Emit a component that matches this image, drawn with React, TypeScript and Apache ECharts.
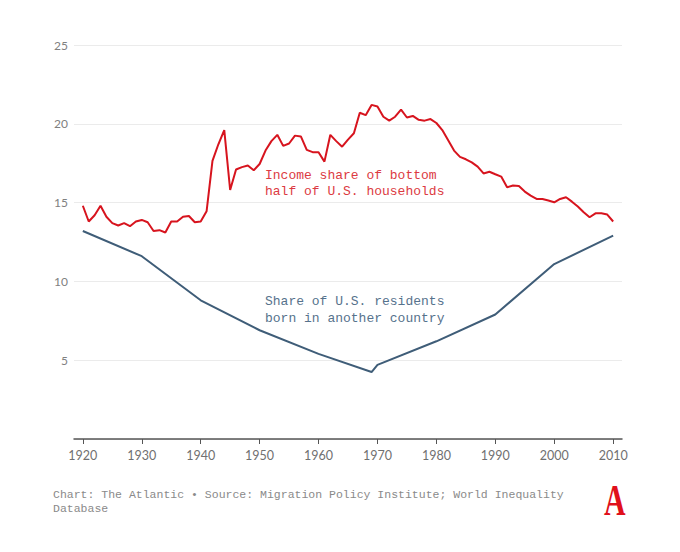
import React, { useEffect, useRef } from "react";
import * as echarts from "echarts";

// bottom-50% income share, one value per year from 1920
const incomeStartYear = 1920;
const incomeShare = [
	14.8, 13.8, 14.2, 14.8, 14.1, 13.7, 13.55, 13.7, 13.5, 13.8,
	13.9, 13.75, 13.2, 13.25, 13.1, 13.8, 13.8, 14.1, 14.15, 13.75,
	13.8, 14.45, 17.65, 18.7, 19.6, 15.8, 17.1, 17.25, 17.35, 17.05,
	17.45, 18.3, 18.9, 19.3, 18.6, 18.75, 19.25, 19.2, 18.35, 18.2,
	18.2, 17.6, 19.3, 18.9, 18.55, 19.0, 19.4, 20.7, 20.55, 21.2,
	21.1, 20.45, 20.2, 20.45, 20.9, 20.4, 20.5, 20.25, 20.2, 20.3,
	20.05, 19.6, 18.95, 18.3, 17.9, 17.75, 17.55, 17.28, 16.85, 16.96,
	16.8, 16.65, 15.97, 16.08, 16.05, 15.7, 15.44, 15.23, 15.23, 15.13,
	15.02, 15.23, 15.34, 15.06, 14.75, 14.39, 14.07, 14.32, 14.32, 14.24,
	13.8,
];

// foreign-born share of residents
const foreignYears = [1920, 1930, 1940, 1950, 1960, 1969, 1970, 1980, 1990, 2000, 2010];
const foreignShare = [13.2, 11.6, 8.8, 6.9, 5.4, 4.25, 4.7, 6.2, 7.9, 11.1, 12.9];

const xTicks = [1920, 1930, 1940, 1950, 1960, 1970, 1980, 1990, 2000, 2010];

const RED = "#d7141e";
const BLUE = "#3f5d78";

const App = () => {
	const chartRef = useRef(null);

	useEffect(() => {
		if (!chartRef.current) return;
		const chart = echarts.init(chartRef.current, null, { renderer: "svg" });

		const incomeData = incomeShare.map((v, i) => [incomeStartYear + i, v]);
		const foreignData = foreignYears.map((y, i) => [y, foreignShare[i]]);

		chart.setOption({
			animation: false,
			backgroundColor: "#ffffff",
			grid: { left: 74, right: 58, top: 45, bottom: 113 },
			xAxis: {
				type: "value",
				min: 1918.5,
				max: 2011.5,
				axisLine: { show: true, lineStyle: { color: "#555", width: 1.5 } },
				axisTick: {
					show: true,
					customValues: xTicks,
					length: 5,
					inside: false,
					lineStyle: { color: "#555" },
				},
				axisLabel: {
					customValues: xTicks,
					color: "#707070",
					fontFamily: "Lato",
					fontSize: 12.5,
					margin: 10,
					formatter: (v) => String(v),
				},
				splitLine: { show: false },
			},
			yAxis: {
				type: "value",
				min: 0,
				max: 25,
				interval: 5,
				axisLine: { show: false },
				axisTick: { show: false },
				axisLabel: {
					color: "#808080",
					fontFamily: "Lato",
					fontSize: 12,
					margin: 6,
					formatter: (v) => (v === 0 ? "" : String(v)),
				},
				splitLine: { lineStyle: { color: "#ebebeb", width: 1 } },
			},
			series: [
				{
					type: "line",
					data: foreignData,
					showSymbol: false,
					lineStyle: { color: BLUE, width: 2 },
					itemStyle: { color: BLUE },
				},
				{
					type: "line",
					data: incomeData,
					showSymbol: false,
					lineStyle: { color: RED, width: 2 },
					itemStyle: { color: RED },
				},
			],
			graphic: [
				{
					type: "text",
					left: 265,
					top: 167,
					style: {
						text: "Income share of bottom\nhalf of U.S. households",
						fill: "#dc3a42",
						font: '13px "Liberation Mono"',
						lineHeight: 16,
					},
				},
				{
					type: "text",
					left: 265,
					top: 293,
					style: {
						text: "Share of U.S. residents\nborn in another country",
						fill: "#56728c",
						font: '13px "Liberation Mono"',
						lineHeight: 17,
					},
				},
				{
					type: "text",
					left: 53,
					top: 487,
					style: {
						text: "Chart: The Atlantic \u2022 Source: Migration Policy Institute; World Inequality\nDatabase",
						fill: "#8a8a8a",
						font: '11.5px "Liberation Mono"',
						lineHeight: 14,
					},
				},
				{
					type: "text",
					x: 604,
					y: 478,
					scaleX: 0.68,
					style: {
						text: "A",
						fill: "#e0101b",
						font: 'bold 44px "Liberation Serif"',
					},
				},
			],
		});

		return () => {
			chart.dispose();
		};
	}, []);

	return (
		<div
			ref={chartRef}
			style={{ position: "absolute", left: 0, top: 0, width: "680px", height: "552px" }}
		/>
	);
};

export default App;
